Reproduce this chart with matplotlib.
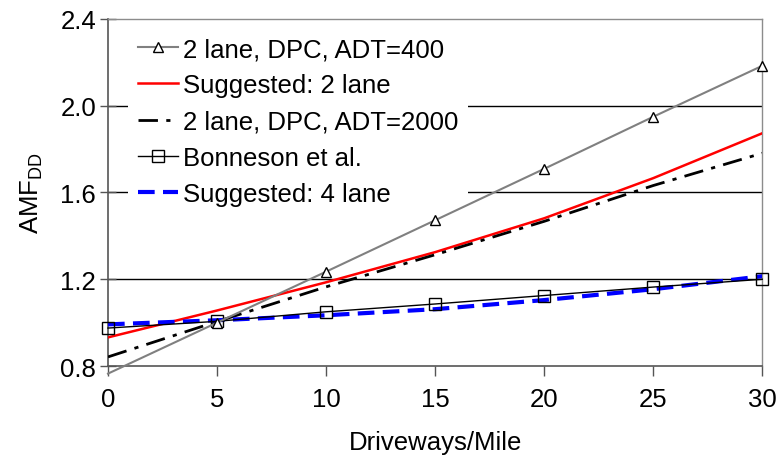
import matplotlib.pyplot as plt

plt.rcParams['font.family'] = ['Liberation Sans', 'DejaVu Sans']

driveways = [0, 5, 10, 15, 20, 25, 30]

# AMF values read at each 5 driveways/mile
dpc_adt400 = [0.765, 1.00, 1.235, 1.472, 1.709, 1.949, 2.184]
suggested_2lane = [0.932, 1.056, 1.186, 1.325, 1.481, 1.666, 1.873]
dpc_adt2000 = [0.842, 1.005, 1.165, 1.313, 1.467, 1.632, 1.781]
bonneson = [0.975, 1.006, 1.050, 1.086, 1.125, 1.164, 1.200]
suggested_4lane = [0.992, 1.011, 1.034, 1.062, 1.104, 1.154, 1.214]

yticks = [0.8, 1.2, 1.6, 2.0, 2.4]
xticks = [0, 5, 10, 15, 20, 25, 30]

fig = plt.figure(figsize=(7.77, 4.64), dpi=100)
ax = fig.add_axes([0.139, 0.209, 0.842, 0.748])

for g in [1.2, 1.6, 2.0]:
    ax.axhline(g, color='black', lw=1.0, zorder=1)

# the 0-driveway point sits below the axis floor: line only, no marker.
# drawn above the legend box so it stays visible past its corner
ax.plot(driveways, dpc_adt400, color='#808080', lw=1.5, marker='^',
        markevery=slice(1, None), markersize=7, markerfacecolor='white',
        markeredgecolor='black', markeredgewidth=1.0,
        label='2 lane, DPC, ADT=400', zorder=11, clip_on=False)
ax.plot(driveways, suggested_2lane, color='red', lw=1.8,
        label='Suggested: 2 lane', zorder=4)
ax.plot(driveways, dpc_adt2000, color='black', lw=2.0,
        dashes=(7, 3, 1.5, 3), label='2 lane, DPC, ADT=2000', zorder=4)
ax.plot(driveways, bonneson, color='black', lw=1.0, marker='s',
        markersize=8, markerfacecolor='none', markeredgecolor='black',
        markeredgewidth=1.0, label='Bonneson et al.', zorder=5, clip_on=False)
ax.plot(driveways, suggested_4lane, color='#0000ff', lw=3.0,
        dashes=(4, 2), label='Suggested: 4 lane', zorder=4)

ax.set_xlim(0, 30)
ax.set_ylim(0.8, 2.4)
ax.set_xticks(xticks)
ax.set_yticks(yticks)
ax.set_yticklabels([f'{v:.1f}' for v in yticks])
ax.tick_params(axis='y', direction='inout', length=11, width=1,
               color='#555555', labelsize=18.5, pad=3)
ax.tick_params(axis='x', direction='out', length=7, width=1,
               color='#555555', labelsize=18.5, pad=8)

for side in ['left', 'bottom']:
    ax.spines[side].set_color('#555555')
    ax.spines[side].set_linewidth(1.2)
for side in ['top', 'right']:
    ax.spines[side].set_color('#8c8c8c')
    ax.spines[side].set_linewidth(1.0)

ax.set_xlabel('Driveways/Mile', fontsize=18.5, labelpad=14)
ax.set_ylabel('AMF$_{\\mathregular{DD}}$', fontsize=18.5, labelpad=11)

leg = ax.legend(loc='upper left', bbox_to_anchor=(0.02, 0.995), fontsize=18.5,
                frameon=True, fancybox=False, framealpha=1.0,
                edgecolor='none', facecolor='white', handlelength=1.55,
                handletextpad=0.2, labelspacing=0.47, borderpad=0.4,
                borderaxespad=0.25)
leg.set_zorder(10)

fig.savefig('out.png', dpi=100)
